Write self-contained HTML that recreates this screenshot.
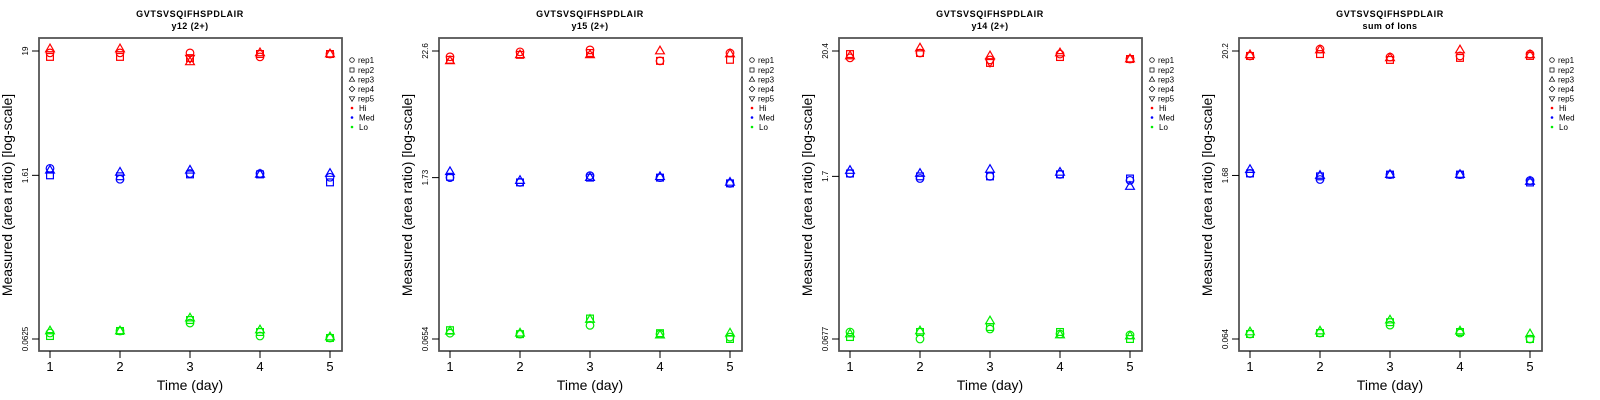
<!DOCTYPE html>
<html><head><meta charset="utf-8"><style>
html,body{margin:0;padding:0;background:#fff;}
svg{display:block;font-family:"Liberation Sans",sans-serif;}
</style></head><body>
<svg id="chart" width="1600" height="400" xmlns="http://www.w3.org/2000/svg"></svg>
<script>
const days = [1, 2, 3, 4, 5];
const reps = ["rep1", "rep2", "rep3", "rep4", "rep5"];
const panelTitles = ["y12 (2+)", "y15 (2+)", "y14 (2+)", "sum of Ions"];
const peptide = "GVTSVSQIFHSPDLAIR";
const tickLabels = [["19","1.61","0.0625"],["22.6","1.73","0.0654"],["20.4","1.7","0.0677"],["20.2","1.68","0.064"]];
const tickValues = [[19,1.61,0.0625],[22.6,1.73,0.0654],[20.4,1.7,0.0677],[20.2,1.68,0.064]];
// values[panel][day][rep]; null = not measured
const hiValues = [
 [[18.3,16.9,19.8,null,null],[18.3,16.9,19.8,null,null],[18.3,16.5,15.3,null,16.5],[16.9,17.9,18.3,null,null],[17.9,17.9,17.9,null,null]],
 [[20.1,18.9,18.5,null,null],[22.2,20.9,20.9,null,null],[23.1,21.7,20.9,null,null],[18.5,18.5,22.6,null,null],[21.7,18.9,21.3,null,null]],
 [[17.8,19.2,18.5,null,null],[19.6,19.6,21.6,null,null],[17.1,16.1,18.5,null,16.4],[19.2,18.1,19.6,null,null],[17.4,17.4,17.4,null,null]],
 [[18.3,18.3,18.7,null,null],[21.0,19.0,20.6,null,null],[17.9,16.9,17.6,null,null],[18.3,17.6,20.6,null,null],[19.0,18.3,18.7,null,null]]
];
const medValues = [
 [[1.85,1.61,1.78,null,null],[1.49,1.58,1.71,null,null],[1.67,1.64,1.78,null,null],[1.67,1.64,1.64,null,null],[1.55,1.40,1.67,null,null]],
 [[1.73,1.76,1.95,null,null],[1.57,1.57,1.63,null,null],[1.80,1.73,1.73,null,null],[1.73,1.73,1.76,null,null],[1.54,1.54,1.57,null,null]],
 [[1.80,1.80,1.91,null,null],[1.63,1.70,1.80,null,null],[1.70,1.70,1.95,null,null],[1.77,1.77,1.84,null,null],[1.57,1.63,1.39,null,null]],
 [[1.75,1.75,1.89,null,null],[1.55,1.65,1.68,null,null],[1.71,1.71,1.71,null,null],[1.71,1.71,1.71,null,null],[1.52,1.46,1.49,null,null]]
];
const loValues = [
 [[0.0704,0.0663,0.0733,null,null],[0.0733,0.0733,0.0733,null,null],[0.0858,0.0911,0.0947,null,null],[0.0663,0.0718,0.0747,null,null],[0.0638,0.0638,0.065,null,null]],
 [[0.0736,0.0782,0.0766,null,null],[0.0722,0.0722,0.0736,null,null],[0.0863,0.0991,0.0972,null,null],[0.0722,0.0736,0.0708,null,null],[0.068,0.0654,0.0736,null,null]],
 [[0.0778,0.0704,0.0747,null,null],[0.0677,0.0778,0.0793,null,null],[0.0825,0.0858,0.0967,null,null],[0.0747,0.0778,0.0733,null,null],[0.0733,0.0677,0.0719,null,null]],
 [[0.0707,0.0707,0.0736,null,null],[0.0721,0.0721,0.075,null,null],[0.0845,0.0896,0.0933,null,null],[0.0721,0.0736,0.075,null,null],[0.064,0.064,0.0707,null,null]]
];
const levels = ["Hi","Med","Lo"];
const levelColors = ["#ff0000","#0000ff","#00ee00"];

const NS = "http://www.w3.org/2000/svg";
const svg = document.getElementById("chart");
function mk(tag, attrs, parent, text) {
  const e = document.createElementNS(NS, tag);
  for (const k in attrs) e.setAttribute(k, attrs[k]);
  if (text !== undefined) e.textContent = text;
  parent.appendChild(e);
  return e;
}
function drawSymbol(g, rep, cx, cy, col) {
  const r = 3.8, s = {fill:"none", stroke:col, "stroke-width":1.2};
  let e;
  if (rep === 0) e = mk("circle", Object.assign({cx:cx, cy:cy, r:r}, s), g);
  else if (rep === 1) e = mk("rect", Object.assign({x:cx-3.4, y:cy-3.4, width:6.8, height:6.8}, s), g);
  else if (rep === 2) e = mk("polygon", Object.assign({points:`${cx},${cy-4.8} ${cx-4.4},${cy+2.8} ${cx+4.4},${cy+2.8}`}, s), g);
  else if (rep === 3) e = mk("polygon", Object.assign({points:`${cx},${cy-4.6} ${cx+4.6},${cy} ${cx},${cy+4.6} ${cx-4.6},${cy}`}, s), g);
  else e = mk("polygon", Object.assign({points:`${cx},${cy+4.8} ${cx-4.4},${cy-2.8} ${cx+4.4},${cy-2.8}`}, s), g);
  return e;
}

const boxL = 39, boxR = 342, boxT = 38, boxB = 351;
const yTop = 51, yBot = 339;
for (let p = 0; p < 4; p++) {
  const ox = p * 400;
  const g = mk("g", {transform:`translate(${ox},0)`}, svg);
  
  
  const lmax = Math.log10(tickValues[p][0]), lmin = Math.log10(tickValues[p][2]);
  const yScale = v => yTop + (lmax - Math.log10(v)) / (lmax - lmin) * (yBot - yTop);
  const xScale = d => 50 + (d - 1) * 70;

  const t1 = mk("text", {x:190, y:17, "text-anchor":"middle", "font-size":"9", "font-weight":"bold", "letter-spacing":"0.6"}, g, peptide);
  
  
  const t2 = mk("text", {x:190, y:29, "text-anchor":"middle", "font-size":"9", "font-weight":"bold", "letter-spacing":"0.4"}, g, panelTitles[p]);
  
  

  const box = mk("rect", {x:boxL, y:boxT, width:boxR-boxL, height:boxB-boxT, fill:"none", stroke:"#555", "stroke-width":1.8}, g);
  
  

  for (let i = 0; i < 3; i++) {
    const y = yScale(tickValues[p][i]);
    const tk = mk("line", {x1:32, x2:boxL, y1:y, y2:y, stroke:"#000", "stroke-width":1}, g);
    
    
    const tl = mk("text", {x:0, y:0, transform:`translate(28,${y}) rotate(-90)`, "text-anchor":"middle", "font-size":"8"}, g, tickLabels[p][i]);
    
    
  }
  const yl = mk("text", {x:0, y:0, transform:`translate(12,195) rotate(-90)`, "text-anchor":"middle", "font-size":"14"}, g, "Measured (area ratio) [log-scale]");
  
  

  days.forEach(d => {
    const x = xScale(d);
    const tk = mk("line", {x1:x, x2:x, y1:boxB, y2:358, stroke:"#000", "stroke-width":1}, g);
    
    
    const tl = mk("text", {x:x, y:371, "text-anchor":"middle", "font-size":"13"}, g, String(d));
    
    
  });
  const xl = mk("text", {x:190, y:390, "text-anchor":"middle", "font-size":"14"}, g, "Time (day)");
  
  

  const series = [hiValues[p], medValues[p], loValues[p]];
  series.forEach((ser, li) => {
    ser.forEach((dayVals, di) => {
      dayVals.forEach((v, ri) => {
        if (v === null) return;
        const m = drawSymbol(g, ri, xScale(days[di]), yScale(v), levelColors[li]);
        
        
      });
    });
  });

  const lg = mk("g", {}, g);
  
  
  const rowY = [60, 70, 79.5, 89, 98.5, 108, 117.5, 127];
  reps.forEach((r, i) => {
    const s = drawSymbol(lg, i, 352, rowY[i], "#000");
    s.setAttribute('transform', `translate(352,${rowY[i]}) scale(0.6) translate(-352,${-rowY[i]})`);
    
    
    const t = mk("text", {x:358, y:rowY[i]+3, "font-size":"8"}, lg, r);
    
    
  });
  levels.forEach((l, i) => {
    const y = rowY[5+i];
    const c = mk("circle", {cx:352, cy:y, r:1.3, fill:levelColors[i]}, lg);
    
    
    const t = mk("text", {x:359, y:y+3, "font-size":"8"}, lg, l);
    
    
  });
}
</script>
</body></html>
